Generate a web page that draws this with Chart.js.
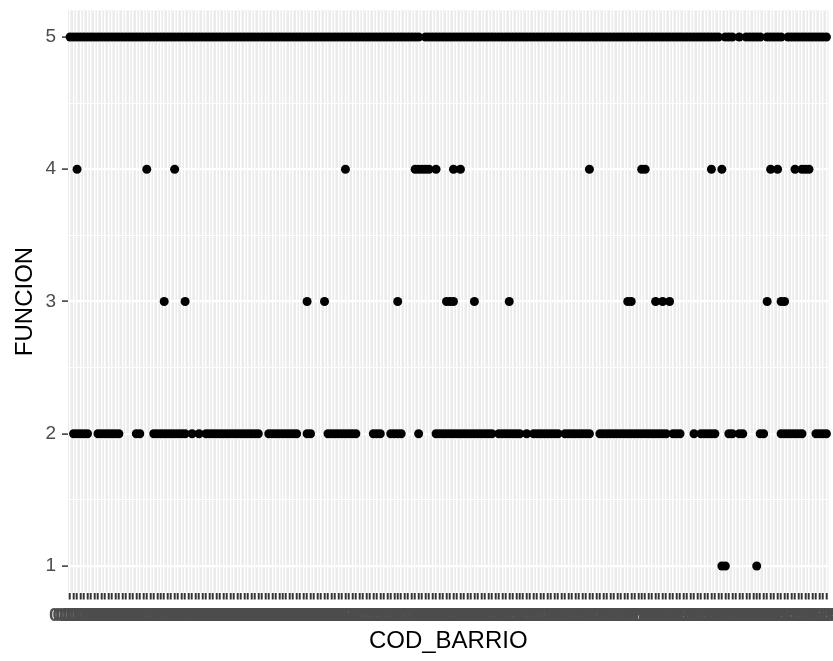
<!DOCTYPE html>
<html>
<head>
<meta charset="utf-8">
<script src="https://cdn.jsdelivr.net/npm/chart.js@4.4.1/dist/chart.umd.min.js"></script>
<style>
  html, body { margin: 0; padding: 0; background: #ffffff; }
  canvas { display: block; }
</style>
</head>
<body>
<canvas id="funcionChart" width="833" height="661"></canvas>
<script>
// Barrio codes along the x axis (one category each)
const barrios = (
  '0101 0102 0103 0104 0105 0106 0107 0108 0109 0110 0111 0112 ' +
  '0201 0202 0203 0204 0205 0206 0207 0208 0209 0210 0211 ' +
  '0301 0302 0303 0304 0305 0306 0307 0308 0309 0310 0311 0312 0313 0314 0315 ' +
  '0401 0402 0403 0404 0405 0406 0407 0408 0409 0410 0411 0412 0413 0414 0415 0416 0417 0418 ' +
  '0501 0502 0503 0504 0505 0506 0507 0508 0509 0510 0511 0512 0513 0514 ' +
  '0601 0602 0603 0604 0605 0606 0607 0608 0609 0610 0611 0612 ' +
  '0701 0702 0703 0704 0705 0706 0707 0708 0709 0710 0711 0712 0713 0714 0715 0716 0717 0718 0719 0720 0721 0722 ' +
  '0801 0802 0803 0804 0805 0806 0807 0808 0809 0810 0811 0812 0813 0814 0815 0816 0817 ' +
  '0901 0902 0903 0904 0905 0906 0907 0908 0909 0910 0911 0912 0913 0914 0915 ' +
  '1001 1002 1003 1004 1005 1006 1007 1008 1009 1010 1011 1012 1013 1014 1015 1016 ' +
  '1101 1102 1103 1104 1105 1106 1107 1108 1109 1110 1111 1112 1113 1114 ' +
  '1201 1202 1203 1204 1205 1206 1207 1208 1209 1210 1211 1212 ' +
  '1301 1302 1303 1304 1305 1306 1307 1308 1309 1310 1311 1312 1313 1314 1315 ' +
  '1401 1402 1403 1404 1405 1406 1407 1408 1409 1410 1411 1412 ' +
  '1501 1502 1503 1504 1505 1506 ' +
  '1601 1602 1603 1604 1605 1606 1607'
).trim().split(/\s+/);

// Positions (index in barrios) having each FUNCION value
const funcion1 = [187, 188, 197];
const funcion3 = [27, 33, 68, 73, 94, 108, 109, 110, 116, 126, 160, 161, 168, 170, 172, 200, 204, 205];
const funcion4 = [2, 22, 30, 79, 99, 100, 101, 102, 103, 105, 110, 112, 149, 164, 165, 184, 187, 201, 203, 208, 210, 211, 212];
// FUNCION 5 and 2 cover almost every barrio; these are the ones without them
const sin5 = [101, 187, 191, 193, 199, 205];
const sin2 = [0, 6, 7, 15, 16, 17, 18, 21, 22, 23, 34, 36, 38, 55, 56, 66, 67, 70, 71, 72, 73,
  83, 84, 85, 86, 90, 91, 96, 97, 98, 99, 101, 102, 103, 104, 122, 130, 132, 141, 150, 151,
  172, 176, 177, 178, 180, 186, 187, 188, 191, 194, 195, 196, 197, 200, 201, 202, 203, 211, 212, 213];

const yTicks = [1, 2, 3, 4, 5];
const yMinor = [1.5, 2.5, 3.5, 4.5];

function puntos(indices, valor) {
  return indices.map(i => ({ x: i, y: valor }));
}
const todos = barrios.map((b, i) => i);
const funcion5 = todos.filter(i => !sin5.includes(i));
const funcion2 = todos.filter(i => !sin2.includes(i));

const panelBg = {
  id: 'panelBg',
  beforeDraw(chart) {
    const { ctx, chartArea: a } = chart;
    ctx.save();
    ctx.fillStyle = '#EBEBEB';
    ctx.fillRect(a.left, a.top, a.right - a.left, a.bottom - a.top);
    ctx.restore();
  }
};

const pointStyle = { backgroundColor: '#000000', borderWidth: 0, pointRadius: 4.5, pointHoverRadius: 4.5, clip: false };

new Chart(document.getElementById('funcionChart'), {
  type: 'scatter',
  data: {
    datasets: [
      { data: puntos(funcion5, 5), ...pointStyle },
      { data: puntos(funcion4, 4), ...pointStyle },
      { data: puntos(funcion3, 3), ...pointStyle },
      { data: puntos(funcion2, 2), ...pointStyle },
      { data: puntos(funcion1, 1), ...pointStyle }
    ]
  },
  options: {
    responsive: false,
    devicePixelRatio: 1,
    animation: false,
    events: [],
    layout: { padding: { top: 10.5, right: 2, left: 0, bottom: 0 } },
    plugins: { legend: { display: false }, tooltip: { enabled: false } },
    scales: {
      x: {
        type: 'linear',
        min: -0.6,
        max: barrios.length - 1 + 0.6,
        afterBuildTicks: (axis) => { axis.ticks = barrios.map((b, i) => ({ value: i })); },
        afterFit: (axis) => { axis.height = 68.5; axis.paddingLeft = 0; axis.paddingRight = 0; },
        border: { display: false },
        grid: { color: '#FFFFFF', lineWidth: 1.4, tickColor: '#333333', tickLength: 7, tickWidth: 2 },
        ticks: {
          autoSkip: false, maxRotation: 0, minRotation: 0, padding: 5,
          color: '#4D4D4D', font: { family: 'Liberation Sans', size: 19, weight: 'bold' },
          callback: (v) => barrios[v]
        },
        title: {
          display: true, text: 'COD_BARRIO', color: '#000000',
          font: { family: 'Liberation Sans', size: 24 },
          padding: { top: 0, bottom: 5.6 }
        }
      },
      y: {
        type: 'linear',
        min: 0.8,
        max: 5.2,
        afterBuildTicks: (axis) => {
          axis.ticks = yTicks.concat(yMinor).sort((a, b) => a - b).map(v => ({ value: v }));
        },
        afterFit: (axis) => { axis.width = 68; axis.paddingTop = 0; axis.paddingBottom = 0; },
        border: { display: false },
        grid: {
          color: '#FFFFFF',
          lineWidth: (c) => yTicks.includes(c.tick.value) ? 2.2 : 1.1,
          tickColor: (c) => yTicks.includes(c.tick.value) ? '#333333' : 'rgba(0,0,0,0)',
          tickLength: 6,
          tickWidth: 1.5
        },
        ticks: {
          padding: 6, color: '#4D4D4D', font: { family: 'Liberation Sans', size: 19 },
          callback: (v) => yTicks.includes(v) ? String(v) : ''
        },
        title: {
          display: true, text: 'FUNCION', color: '#000000',
          font: { family: 'Liberation Sans', size: 24 },
          padding: { top: 10.6, bottom: 0 }
        }
      }
    }
  },
  plugins: [panelBg]
});
</script>
</body>
</html>
